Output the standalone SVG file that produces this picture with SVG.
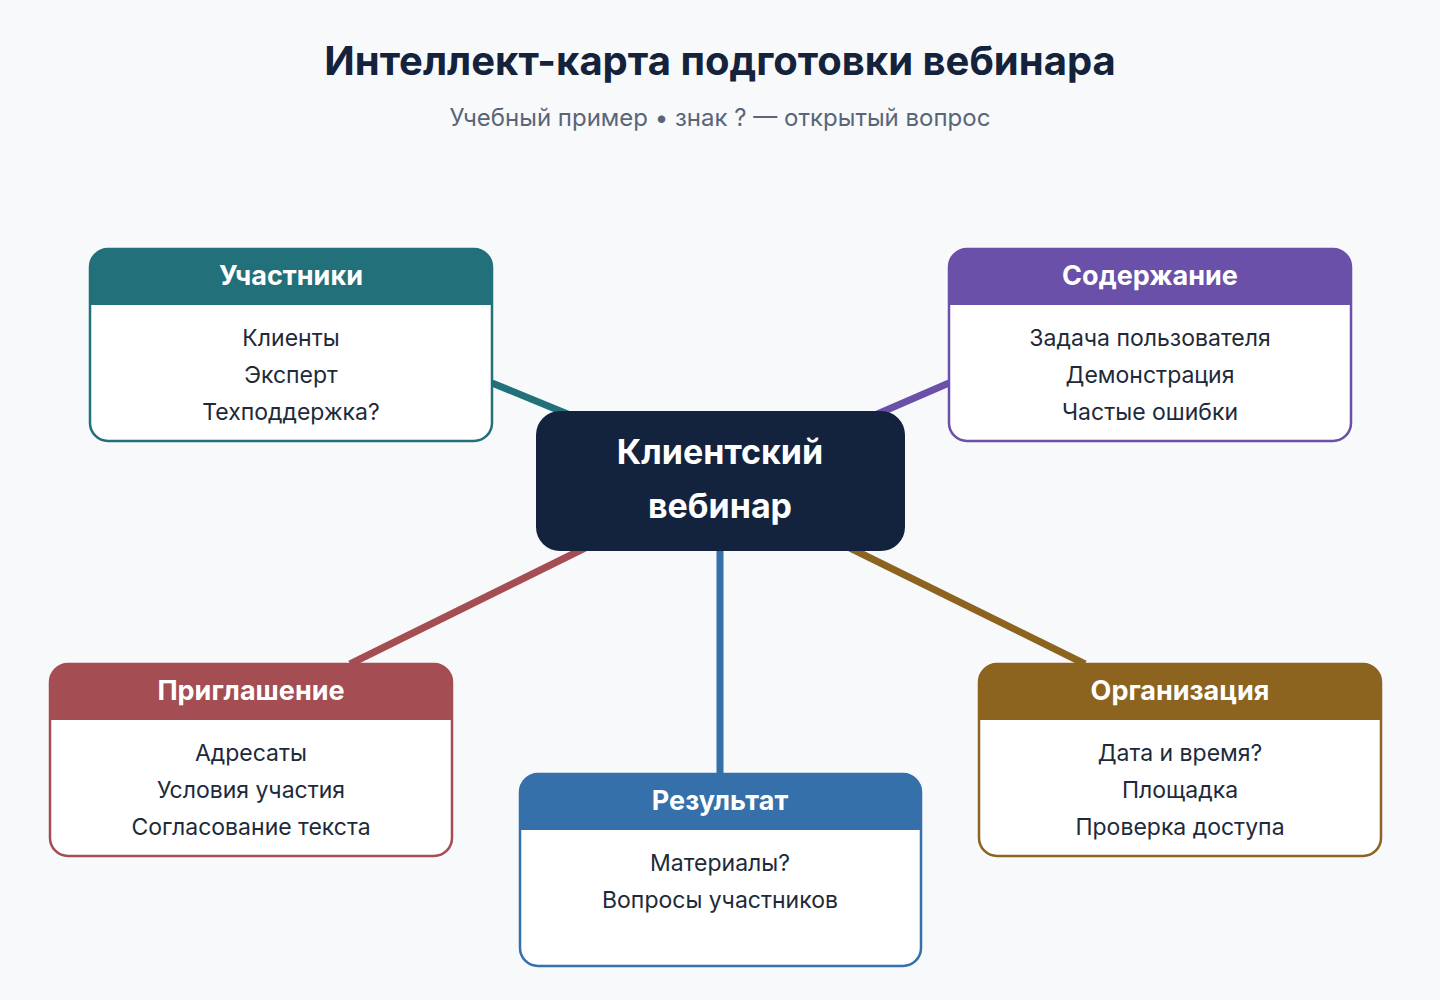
<svg xmlns="http://www.w3.org/2000/svg" width="1440" height="1000" viewBox="0 0 1440 1000">
<style>
.t{font-family:"Inter","Liberation Sans",sans-serif;text-anchor:middle}
.h{font-size:27px;font-weight:700;fill:#fff}
.i{font-size:23px;fill:#1e2a3a}
.c{stroke-width:7;fill:none}
</style>
<rect width="1440" height="1000" fill="#f7f9fb"/>
<text class="t" x="720" y="75" font-size="40" font-weight="700" fill="#14233b">Интеллект-карта подготовки вебинара</text>
<text class="t" x="720" y="126" font-size="24" fill="#5a6578">Учебный пример • знак ? — открытый вопрос</text>
<g id="connectors">
<line class="c" x1="492" y1="383" x2="570" y2="415" stroke="#22707a"/>
<line class="c" x1="949" y1="383" x2="875" y2="415" stroke="#6a50a8"/>
<line class="c" x1="350" y1="664" x2="585" y2="548" stroke="#a44d52"/>
<line class="c" x1="720" y1="548" x2="720" y2="776" stroke="#3670ab"/>
<line class="c" x1="1085" y1="664" x2="850" y2="548" stroke="#8c6420"/>
</g>
<g id="center">
<rect x="536" y="411" width="369" height="140" rx="24" fill="#13233d"/>
<text class="t" x="720" y="464" font-size="34" font-weight="700" fill="#fff">Клиентский</text>
<text class="t" x="720" y="518" font-size="34" font-weight="700" fill="#fff">вебинар</text>
</g>
<g id="uchastniki">
<rect x="90" y="249" width="402" height="192" rx="18" fill="#fff" stroke="#22707a" stroke-width="2.5"/>
<path d="M90 305 V267 a18 18 0 0 1 18 -18 H474 a18 18 0 0 1 18 18 V305 Z" fill="#22707a"/>
<text class="t h" x="291" y="285">Участники</text>
<text class="t i" x="291" y="346">Клиенты</text>
<text class="t i" x="291" y="383">Эксперт</text>
<text class="t i" x="291" y="420">Техподдержка?</text>
</g>
<g id="soderzhanie">
<rect x="949" y="249" width="402" height="192" rx="18" fill="#fff" stroke="#6a50a8" stroke-width="2.5"/>
<path d="M949 305 V267 a18 18 0 0 1 18 -18 H1333 a18 18 0 0 1 18 18 V305 Z" fill="#6a50a8"/>
<text class="t h" x="1150" y="285">Содержание</text>
<text class="t i" x="1150" y="346">Задача пользователя</text>
<text class="t i" x="1150" y="383">Демонстрация</text>
<text class="t i" x="1150" y="420">Частые ошибки</text>
</g>
<g id="priglashenie">
<rect x="50" y="664" width="402" height="192" rx="18" fill="#fff" stroke="#a44d52" stroke-width="2.5"/>
<path d="M50 720 V682 a18 18 0 0 1 18 -18 H434 a18 18 0 0 1 18 18 V720 Z" fill="#a44d52"/>
<text class="t h" x="251" y="700">Приглашение</text>
<text class="t i" x="251" y="761">Адресаты</text>
<text class="t i" x="251" y="798">Условия участия</text>
<text class="t i" x="251" y="835">Согласование текста</text>
</g>
<g id="rezultat">
<rect x="520" y="774" width="401" height="192" rx="18" fill="#fff" stroke="#3670ab" stroke-width="2.5"/>
<path d="M520 830 V792 a18 18 0 0 1 18 -18 H903 a18 18 0 0 1 18 18 V830 Z" fill="#3670ab"/>
<text class="t h" x="720" y="810">Результат</text>
<text class="t i" x="720" y="871">Материалы?</text>
<text class="t i" x="720" y="908">Вопросы участников</text>
</g>
<g id="organizatsiya">
<rect x="979" y="664" width="402" height="192" rx="18" fill="#fff" stroke="#8c6420" stroke-width="2.5"/>
<path d="M979 720 V682 a18 18 0 0 1 18 -18 H1363 a18 18 0 0 1 18 18 V720 Z" fill="#8c6420"/>
<text class="t h" x="1180" y="700">Организация</text>
<text class="t i" x="1180" y="761">Дата и время?</text>
<text class="t i" x="1180" y="798">Площадка</text>
<text class="t i" x="1180" y="835">Проверка доступа</text>
</g>
</svg>
